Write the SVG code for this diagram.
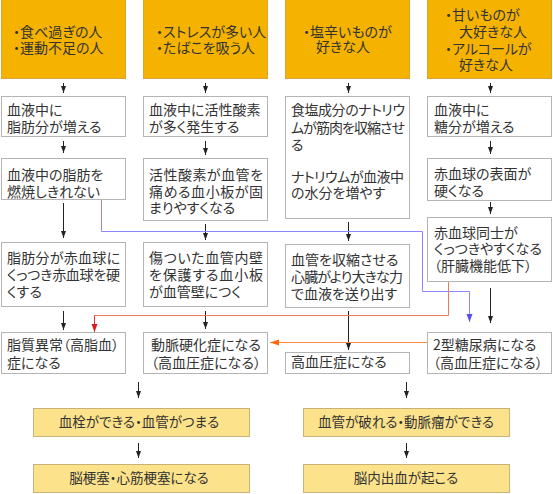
<svg xmlns="http://www.w3.org/2000/svg" width="553" height="494" viewBox="0 0 553 494">
<style>
text{font-family:"Noto Sans CJK JP","Noto Sans CJK SC",sans-serif;font-size:14px;fill:#333;font-feature-settings:"palt";}
.b{font-size:13.5px;}
.c{text-anchor:middle;}
.top rect{fill:#f5b300;stroke:#d9a23a;stroke-width:1;}
.box rect{fill:#fff;stroke:#b4b4b4;stroke-width:1;}
.res rect{fill:#fce28a;stroke:#c9b27a;stroke-width:1;}
.arr{stroke:#222;stroke-width:1;fill:none;marker-end:url(#ak);}
</style>
<defs>
<marker id="ak" markerUnits="userSpaceOnUse" markerWidth="7" markerHeight="6" refX="7" refY="3" orient="auto"><path d="M0,0.5 L7,3 L0,5.5 z" fill="#222"/></marker>
<marker id="ab" markerUnits="userSpaceOnUse" markerWidth="8" markerHeight="7" refX="8" refY="3.5" orient="auto"><path d="M0,0.5 L8,3.5 L0,6.5 z" fill="#5a4cf0"/></marker>
<marker id="ar" markerUnits="userSpaceOnUse" markerWidth="8" markerHeight="7" refX="8" refY="3.5" orient="auto"><path d="M0,0.5 L8,3.5 L0,6.5 z" fill="#e01a1a"/></marker>
<marker id="ao" markerUnits="userSpaceOnUse" markerWidth="9" markerHeight="7" refX="9" refY="3.5" orient="auto"><path d="M0,0.5 L9,3.5 L0,6.5 z" fill="#ff6a10"/></marker>
</defs>

<g id="top1" class="top"><rect x="1.5" y="-0.5" width="124" height="79"/><text><tspan x="13" y="36.5">・食べ過ぎの人</tspan><tspan x="13" y="53">・運動不足の人</tspan></text></g>
<g id="top2" class="top"><rect x="143.5" y="-0.5" width="124" height="79"/><text><tspan x="156" y="36.5">・ストレスが多い人</tspan><tspan x="156" y="53">・たばこを吸う人</tspan></text></g>
<g id="top3" class="top"><rect x="285.5" y="-0.5" width="124" height="79"/><text><tspan x="303" y="36.5">・塩辛いものが</tspan><tspan x="316" y="52">好きな人</tspan></text></g>
<g id="top4" class="top"><rect x="427.5" y="-0.5" width="124" height="79"/><text><tspan x="445" y="19.5">・甘いものが</tspan><tspan x="459" y="36.5">大好きな人</tspan><tspan x="445" y="54">・アルコールが</tspan><tspan x="459" y="69.5">好きな人</tspan></text></g>

<g id="c1r1" class="box"><rect x="1.5" y="96.5" width="124" height="40"/><text><tspan x="7" y="115">血液中に</tspan><tspan x="7" y="131.5">脂肪分が増える</tspan></text></g>
<g id="c2r1" class="box"><rect x="143.5" y="96.5" width="124" height="40"/><text><tspan x="149" y="115">血液中に活性酸素</tspan><tspan x="149" y="131.5">が多く発生する</tspan></text></g>
<g id="c3r1" class="box"><rect x="285.5" y="96.5" width="124" height="122"/><text><tspan x="291" y="115" textLength="114">食塩成分のナトリウ</tspan><tspan x="291" y="133" textLength="114">ムが筋肉を収縮させ</tspan><tspan x="291" y="150">る</tspan><tspan x="291" y="182" textLength="113">ナトリウムが血液中</tspan><tspan x="291" y="198">の水分を増やす</tspan></text></g>
<g id="c4r1" class="box"><rect x="427.5" y="96.5" width="124" height="40"/><text><tspan x="434" y="115">血液中に</tspan><tspan x="434" y="131.5">糖分が増える</tspan></text></g>

<g id="c1r2" class="box"><rect x="1.5" y="158.5" width="124" height="41"/><text><tspan x="7" y="180">血液中の脂肪を</tspan><tspan x="7" y="197">燃焼しきれない</tspan></text></g>
<g id="c2r2" class="box"><rect x="143.5" y="158.5" width="124" height="62"/><text><tspan x="149" y="180" textLength="114">活性酸素が血管を</tspan><tspan x="149" y="197" textLength="114">痛める血小板が固</tspan><tspan x="149" y="213">まりやすくなる</tspan></text></g>
<g id="c4r2" class="box"><rect x="427.5" y="158.5" width="124" height="42"/><text><tspan x="434" y="179">赤血球の表面が</tspan><tspan x="434" y="196">硬くなる</tspan></text></g>
<g id="c4r3" class="box"><rect x="427.5" y="217.5" width="124" height="64"/><text><tspan x="434" y="238">赤血球同士が</tspan><tspan x="434" y="254">くっつきやすくなる</tspan><tspan x="434" y="271">（肝臓機能低下）</tspan></text></g>

<g id="c1r3" class="box"><rect x="1.5" y="242.5" width="124" height="64"/><text><tspan x="7" y="263" textLength="113">脂肪分が赤血球に</tspan><tspan x="7" y="280" textLength="113">くっつき赤血球を硬</tspan><tspan x="7" y="297">くする</tspan></text></g>
<g id="c2r3" class="box"><rect x="143.5" y="242.5" width="124" height="64"/><text><tspan x="149" y="263" textLength="114">傷ついた血管内壁</tspan><tspan x="149" y="280" textLength="114">を保護する血小板</tspan><tspan x="149" y="297">が血管壁につく</tspan></text></g>
<g id="c3r3" class="box"><rect x="285.5" y="244.5" width="124" height="63"/><text><tspan x="291" y="265">血管を収縮させる</tspan><tspan x="291" y="282" textLength="112">心臓がより大きな力</tspan><tspan x="291" y="299">で血液を送り出す</tspan></text></g>

<g id="c1r4" class="box"><rect x="1.5" y="332.5" width="124" height="41"/><text><tspan x="7" y="350">脂質異常（高脂血）</tspan><tspan x="7" y="368">症になる</tspan></text></g>
<g id="c2r4" class="box"><rect x="143.5" y="332.5" width="124" height="41"/><text class="c"><tspan x="206" y="350">動脈硬化症になる</tspan><tspan x="206" y="368">（高血圧症になる）</tspan></text></g>
<g id="c3r4" class="box"><rect x="285.5" y="352.5" width="124" height="21"/><text x="291" y="367">高血圧症になる</text></g>
<g id="c4r4" class="box"><rect x="427.5" y="332.5" width="124" height="41"/><text><tspan x="433" y="350">2型糖尿病になる</tspan><tspan x="433" y="368">（高血圧症になる）</tspan></text></g>

<g id="res1" class="res"><rect x="33.5" y="408.5" width="216" height="28"/><text class="c b" x="139" y="427">血栓ができる・血管がつまる</text></g>
<g id="res2" class="res"><rect x="33.5" y="464.5" width="216" height="28"/><text class="c b" x="139" y="483">脳梗塞・心筋梗塞になる</text></g>
<g id="res3" class="res"><rect x="303.5" y="408.5" width="206" height="28"/><text class="c b" x="406" y="427">血管が破れる・動脈瘤ができる</text></g>
<g id="res4" class="res"><rect x="303.5" y="464.5" width="206" height="28"/><text class="c b" x="406" y="483">脳内出血が起こる</text></g>

<g id="connectors">
<line class="arr" x1="63.5" y1="83" x2="63.5" y2="93"/>
<line class="arr" x1="205.5" y1="83" x2="205.5" y2="93"/>
<line class="arr" x1="348.5" y1="83" x2="348.5" y2="93"/>
<line class="arr" x1="490.5" y1="83" x2="490.5" y2="93"/>
<line class="arr" x1="63.5" y1="141" x2="63.5" y2="153"/>
<line class="arr" x1="205.5" y1="141" x2="205.5" y2="155"/>
<line class="arr" x1="490.5" y1="141" x2="490.5" y2="154"/>
<line class="arr" x1="490.5" y1="202" x2="490.5" y2="214"/>
<line class="arr" x1="63.5" y1="203" x2="63.5" y2="238"/>
<line class="arr" x1="205.5" y1="224" x2="205.5" y2="240"/>
<line class="arr" x1="348.5" y1="222" x2="348.5" y2="241"/>
<line class="arr" x1="490.5" y1="288" x2="490.5" y2="323"/>
<line class="arr" x1="63.5" y1="311" x2="63.5" y2="330"/>
<line class="arr" x1="205.5" y1="311" x2="205.5" y2="329"/>
<line class="arr" x1="348.5" y1="311" x2="348.5" y2="350"/>
<line class="arr" x1="138.5" y1="382" x2="138.5" y2="398"/>
<line class="arr" x1="138.5" y1="443" x2="138.5" y2="458"/>
<line class="arr" x1="406.5" y1="382" x2="406.5" y2="398"/>
<line class="arr" x1="406.5" y1="443" x2="406.5" y2="458"/>
<polyline points="101.5,200 101.5,231.5 422.5,231.5 422.5,291.5 469.5,291.5 469.5,322" fill="none" stroke="#8c86ff" stroke-width="1" marker-end="url(#ab)"/>
<polyline points="448.5,282 448.5,315.5 94.5,315.5" fill="none" stroke="#ee7a55" stroke-width="1"/>
<line x1="94.5" y1="315.5" x2="94.5" y2="332" stroke="#e8303a" stroke-width="1" marker-end="url(#ar)"/>
<line x1="427" y1="342.5" x2="270" y2="342.5" stroke="#ff8a45" stroke-width="1" marker-end="url(#ao)"/>
</g>
</svg>
